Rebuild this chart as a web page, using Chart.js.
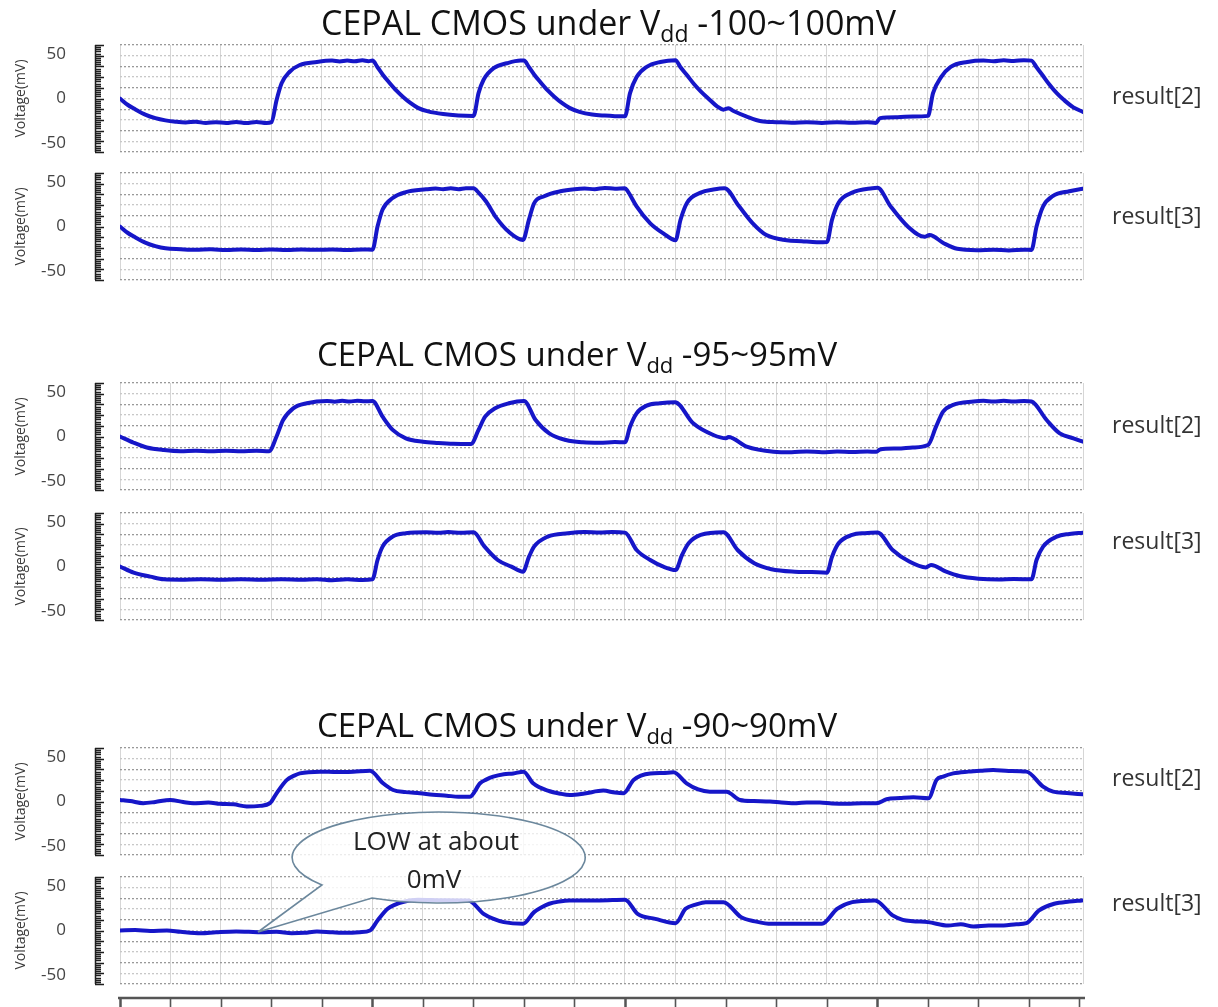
<!DOCTYPE html>
<html>
<head>
<meta charset="utf-8">
<script src="https://cdn.jsdelivr.net/npm/chart.js@4.4.0/dist/chart.umd.min.js"></script>
<style>
  body { margin: 0; background: #fff; width: 1218px; height: 1007px; position: relative; overflow: hidden; }
  canvas { position: absolute; left: 0; }
  #overlay { position: absolute; left: 0; top: 0; pointer-events: none; }
  #overlay text { font-family: "Open Sans", sans-serif; }
</style>
</head>
<body>

<canvas id="c1" width="1218" height="117" style="top:40px"></canvas>
<canvas id="c2" width="1218" height="117" style="top:168px"></canvas>
<canvas id="c3" width="1218" height="117" style="top:378px"></canvas>
<canvas id="c4" width="1218" height="117" style="top:508px"></canvas>
<canvas id="c5" width="1218" height="117" style="top:743px"></canvas>
<canvas id="c6" width="1218" height="135" style="top:872px"></canvas>

<svg id="overlay" width="1218" height="1007">
  <text x="321" y="35" font-size="34" fill="#111">CEPAL CMOS under V<tspan font-size="23" dy="7">dd</tspan><tspan dy="-7"> -100~100mV</tspan></text>
  <text x="317" y="366" font-size="33" fill="#111">CEPAL CMOS under V<tspan font-size="22" dy="7">dd</tspan><tspan dy="-7"> -95~95mV</tspan></text>
  <text x="317" y="737" font-size="33" fill="#111">CEPAL CMOS under V<tspan font-size="22" dy="7">dd</tspan><tspan dy="-7"> -90~90mV</tspan></text>

  <text x="1112" y="104" font-size="23" fill="#333">result[2]</text>
  <text x="1112" y="224" font-size="23" fill="#333">result[3]</text>
  <text x="1112" y="433" font-size="23" fill="#333">result[2]</text>
  <text x="1112" y="549" font-size="23" fill="#333">result[3]</text>
  <text x="1112" y="786" font-size="23" fill="#333">result[2]</text>
  <text x="1112" y="911" font-size="23" fill="#333">result[3]</text>

  <path d="M 372 898 A 146.5 45.5 0 1 0 322 885 L 258 932 Z" fill="rgba(255,255,255,0.8)" stroke="#6b879c" stroke-width="1.6"/>
  <text x="436" y="850" font-size="26" fill="#222" text-anchor="middle">LOW at about</text>
  <text x="434" y="888" font-size="26" fill="#222" text-anchor="middle">0mV</text>
</svg>

<script>
// time axis (one grid division per unit) and voltage readings in mV
const xMax = 19.07;
const yTickVals = [-50, 0, 50];

// Vdd -100~100mV
const r2_100 = [[0,0],[0.15,-7],[0.3,-12],[0.5,-18],[0.7,-22],[0.9,-24.5],[1.1,-26],[1.3,-26.8],[1.5,-26],[1.7,-27.5],[1.9,-26.5],[2.1,-27.5],[2.3,-26.3],[2.5,-27.6],[2.7,-26.4],[2.9,-27.5],[3.0,-26.5],[3.1,-2],[3.2,17],[3.36,30],[3.56,37.6],[3.9,41],[4.2,42.5],[4.35,41.6],[4.5,42.6],[4.65,41.7],[4.8,42.8],[4.92,41.9],[5.0,42.5],[5.1,35],[5.2,27],[5.33,18],[5.47,9],[5.6,2],[5.75,-5],[5.9,-10.5],[6.1,-14.5],[6.4,-17.5],[6.7,-19],[7.0,-19.5],[7.1,6],[7.2,21],[7.4,34],[7.66,39.5],[7.93,42.5],[8.0,42.5],[8.1,35],[8.2,27],[8.33,18],[8.47,9],[8.6,2],[8.75,-5],[8.9,-10.5],[9.1,-15],[9.35,-18],[9.6,-19.2],[9.8,-19.8],[10.0,-20],[10.1,6],[10.23,24],[10.43,35.5],[10.7,41],[11.0,43],[11.1,35],[11.23,26],[11.37,16],[11.5,8],[11.65,0],[11.83,-9],[11.95,-12.5],[12.05,-11],[12.15,-14],[12.4,-20],[12.7,-25.5],[13.0,-26.5],[13.3,-27.2],[13.6,-26.5],[13.9,-27.4],[14.2,-26.6],[14.5,-27.3],[14.8,-26.6],[14.97,-27.4],[15.05,-22],[15.4,-21],[15.7,-20.2],[16.0,-19.5],[16.1,6],[16.26,24],[16.45,35.5],[16.78,41],[17.1,42.6],[17.3,41.8],[17.5,42.9],[17.7,42],[17.9,43],[18.05,42.5],[18.15,35],[18.27,26],[18.4,16],[18.55,6],[18.7,-2],[18.88,-10],[19.07,-15]];
const r3_100 = [[0,0],[0.15,-7],[0.3,-12],[0.5,-18],[0.7,-22],[0.9,-24.5],[1.2,-25.5],[1.5,-26.2],[1.8,-25.6],[2.1,-26.3],[2.4,-25.7],[2.7,-26.3],[3.0,-25.8],[3.3,-26.3],[3.6,-25.7],[3.9,-26.2],[4.2,-25.8],[4.5,-26.3],[4.8,-25.8],[5.0,-26],[5.1,0],[5.2,19],[5.4,32],[5.66,38.5],[6.06,41.7],[6.25,42.6],[6.4,41.8],[6.55,42.8],[6.7,41.8],[6.85,42.9],[7.0,42.8],[7.1,38],[7.25,28],[7.45,10],[7.7,-6],[7.98,-15],[8.1,8],[8.2,26],[8.4,34],[8.72,39.5],[9.0,41.8],[9.2,42.5],[9.4,41.9],[9.6,43.3],[9.8,42.3],[10.0,43],[10.05,40],[10.23,22.6],[10.5,3.6],[10.76,-7.7],[11.0,-15.4],[11.1,7.6],[11.23,26.7],[11.5,38],[11.75,41.5],[11.97,43],[12.26,22.6],[12.53,3.6],[12.8,-9.6],[13.2,-15.4],[13.5,-16.5],[13.8,-17.6],[14.0,-17.3],[14.1,7.6],[14.23,26.7],[14.5,38],[14.9,43],[15.0,43.5],[15.26,22.6],[15.6,0],[15.93,-11.6],[16.03,-9.6],[16.32,-19],[16.58,-25],[16.97,-26.5],[17.3,-26],[17.6,-26.8],[17.9,-26],[18.05,-26.3],[18.15,0],[18.28,22.6],[18.47,34],[18.8,39.6],[19.07,42.5]];

// Vdd -95~95mV
const r2_95 = [[0,0],[0.27,-7],[0.53,-12.3],[0.87,-15.2],[1.2,-16.5],[1.5,-15.9],[1.8,-16.6],[2.1,-16],[2.4,-16.6],[2.7,-16],[2.95,-16.5],[3.1,0],[3.23,18.5],[3.43,31.6],[3.7,37.3],[4.1,39.9],[4.25,39.1],[4.4,40],[4.55,39.2],[4.7,40.2],[4.85,39.4],[5.0,39.9],[5.2,22.2],[5.4,7.4],[5.66,-2],[6.0,-5.8],[6.3,-7.2],[6.6,-8.2],[6.95,-8.5],[7.1,7.4],[7.23,22.2],[7.43,31.6],[7.7,37.3],[8.0,39.9],[8.23,18.5],[8.5,3.5],[8.83,-3.9],[9.17,-6.5],[9.5,-7],[9.8,-6.3],[10.0,-6.5],[10.1,11],[10.23,26],[10.43,34.6],[10.69,37.3],[10.99,38.5],[11.35,14.8],[11.75,1.7],[12.0,-2],[12.05,-0.5],[12.41,-11.4],[12.94,-17],[13.3,-17.6],[13.6,-16.8],[13.9,-17.6],[14.2,-16.9],[14.5,-17.5],[14.8,-16.9],[14.98,-17.2],[15.05,-14.5],[15.4,-13.5],[15.7,-12.3],[16.0,-9.6],[16.16,11],[16.3,27.9],[16.5,35.4],[16.9,39.2],[17.1,40],[17.3,39.2],[17.5,40],[17.7,39.2],[17.9,39.9],[18.05,39.2],[18.35,18.5],[18.61,3.5],[18.88,-2],[19.07,-5.8]];
const r3_95 = [[0,0],[0.27,-6.9],[0.6,-11.4],[0.87,-14.4],[1.2,-14.8],[1.6,-14.2],[2.0,-14.8],[2.4,-14.3],[2.8,-14.8],[3.2,-14.3],[3.6,-14.9],[3.9,-14.2],[4.2,-15.3],[4.5,-14.4],[4.8,-15.1],[5.0,-14.4],[5.1,7.3],[5.2,22.3],[5.4,33.5],[5.66,37.3],[6.06,38.4],[6.3,37.8],[6.5,38.6],[6.75,37.9],[7.0,38.4],[7.22,22.3],[7.48,7.3],[7.75,-0.2],[7.98,-5.8],[8.1,11],[8.2,22.3],[8.47,33.5],[8.87,37.3],[9.2,38.6],[9.5,38],[9.75,38.7],[10.0,38],[10.23,18.5],[10.5,7.3],[10.76,-0.2],[11.0,-3.9],[11.13,12.9],[11.26,26],[11.5,35.4],[11.95,38.4],[12.23,18.5],[12.56,3.6],[12.9,-3.1],[13.36,-5.8],[13.7,-6.2],[14.0,-6.9],[14.1,11],[14.23,26],[14.5,35.4],[14.75,37.4],[15.0,38],[15.3,18.5],[15.63,5.5],[15.96,-1],[16.06,1.7],[16.36,-5.8],[16.62,-10.7],[17.0,-13.7],[17.4,-14.6],[17.7,-14],[18.05,-14.4],[18.15,7.3],[18.28,22.3],[18.55,33.5],[18.8,36.5],[19.07,38]];

// Vdd -90~90mV
const r2_90 = [[0,1.7],[0.2,0.5],[0.46,-1.9],[0.7,-0.5],[0.99,1.7],[1.25,-0.5],[1.45,-1.9],[1.75,-1.2],[1.98,-2.6],[2.25,-3.2],[2.51,-5.6],[2.77,-4.9],[2.97,-1.9],[3.1,9.2],[3.3,24],[3.45,29],[3.56,31.5],[3.96,33.5],[4.3,33],[4.62,33.5],[4.95,34.6],[5.21,20.4],[5.41,12.9],[5.65,10.5],[5.94,9.2],[6.2,7.5],[6.47,6.5],[6.7,5.4],[6.93,5.4],[7.13,20.4],[7.25,24.5],[7.39,27.8],[7.6,30.5],[7.79,31.5],[7.99,33.5],[8.18,20.4],[8.51,11.5],[8.7,9],[8.91,7.3],[9.2,9],[9.57,12.2],[9.8,10],[9.97,9.2],[10.17,24.2],[10.5,31.5],[10.75,32],[10.96,32.7],[11.22,20.4],[11.45,13.5],[11.68,11],[12.01,11],[12.28,1.7],[12.55,0.5],[12.87,0],[13.1,-1],[13.4,-1.9],[13.6,-1],[13.86,-1.1],[14.1,-2.2],[14.39,-2.6],[14.7,-1.9],[14.98,-1.9],[15.18,2.5],[15.45,3.8],[15.71,4.7],[16.01,3.6],[16.17,24.2],[16.3,28],[16.5,31.5],[16.8,33.5],[17.05,34.6],[17.29,35.4],[17.6,34.3],[17.95,33.5],[18.28,16.7],[18.48,11],[18.75,9.5],[19.07,8]];
const r3_90 = [[0,0],[0.3,0.5],[0.6,-0.5],[0.93,0],[1.2,-1.5],[1.6,-3],[1.9,-2],[2.3,-1.1],[2.55,-1.5],[2.8,-1.9],[3.1,-1.5],[3.4,-3],[3.65,-2.6],[3.9,-1.1],[4.2,-2],[4.5,-2.6],[4.75,-1.9],[4.95,0],[5.1,11.2],[5.3,24.3],[5.45,29],[5.6,32],[5.9,34.5],[6.4,34],[6.9,33.7],[7.2,18.7],[7.4,13],[7.6,9.4],[7.98,7.5],[8.2,20.6],[8.35,26],[8.5,30],[8.7,32.5],[8.9,33.7],[9.5,33.7],[10.0,34.5],[10.25,18.7],[10.6,13.1],[11.0,8.2],[11.2,24.3],[11.4,29],[11.6,31.8],[11.95,31.8],[12.3,15],[12.6,10],[12.9,7.5],[13.4,7.5],[13.9,7.5],[14.2,24.3],[14.5,31.8],[14.95,33.7],[15.3,16.9],[15.5,12],[15.7,10.5],[16.0,9.4],[16.4,5.6],[16.65,7],[16.9,4.5],[17.2,5.6],[17.5,5.6],[17.75,7],[17.95,8.2],[18.2,22.5],[18.5,30],[18.8,32.5],[19.05,33.7]];

// left ruler of the y axis and, for the last panel, the bottom time axis
const rulerPlugin = {
  id: 'ruler',
  afterDraw(chart, args, opts) {
    const ctx = chart.ctx;
    const x = chart.scales.x, y = chart.scales.y;
    ctx.save();
    ctx.strokeStyle = '#1e1e1e';
    ctx.lineWidth = 1.5;
    ctx.beginPath();
    ctx.moveTo(95.5, y.getPixelForValue(60));
    ctx.lineTo(95.5, y.getPixelForValue(-60));
    for (let i = 0; i <= 50; i++) {
      const py = Math.round(y.getPixelForValue(-60 + i * 2.4)) + 0.5;
      ctx.moveTo(95, py);
      ctx.lineTo(i % 5 === 0 ? 104 : 101, py);
    }
    ctx.stroke();
    if (opts.bottomAxis) {
      const by = chart.chartArea.bottom + 14;
      ctx.strokeStyle = '#555';
      ctx.lineWidth = 2.5;
      ctx.beginPath();
      ctx.moveTo(x.getPixelForValue(0) - 2, by);
      ctx.lineTo(x.getPixelForValue(xMax) + 2, by);
      ctx.stroke();
      for (let i = 0; i <= 19; i++) {
        const px = Math.round(x.getPixelForValue(i)) + 0.5;
        ctx.lineWidth = i % 5 === 0 ? 2.5 : 1.6;
        ctx.beginPath();
        ctx.moveTo(px, by);
        ctx.lineTo(px, by + 12);
        ctx.stroke();
      }
    }
    ctx.restore();
  }
};

function makeChart(id, pts, last) {
  new Chart(document.getElementById(id), {
    type: 'line',
    data: {
      datasets: [{
        data: pts.map(p => ({ x: p[0], y: p[1] })),
        borderColor: '#1616c8',
        borderWidth: 4,
        borderJoinStyle: 'round',
        borderCapStyle: 'round',
        pointRadius: 0,
        cubicInterpolationMode: 'monotone',
        fill: false
      }]
    },
    options: {
      animation: false,
      responsive: false,
      layout: { padding: { left: 0, right: 135, top: 5, bottom: last ? 23 : 5 } },
      plugins: {
        legend: { display: false },
        tooltip: { enabled: false },
        ruler: { bottomAxis: last }
      },
      scales: {
        x: {
          type: 'linear',
          min: 0,
          max: xMax,
          ticks: { display: false, stepSize: 1 },
          grid: { color: '#d6d6d6', lineWidth: 1, drawTicks: false },
          border: { display: false }
        },
        y: {
          type: 'linear',
          min: -60,
          max: 60,
          ticks: { display: false, stepSize: 12 },
          grid: {
            color: c => (c.index % 2 ? '#c8c8c8' : '#999999'),
            lineWidth: 1.3,
            drawTicks: false
          },
          border: { display: false, dash: [2, 2] }
        },
        yl: {
          type: 'linear',
          axis: 'y',
          position: 'left',
          min: -60,
          max: 60,
          afterBuildTicks: s => { s.ticks = yTickVals.map(v => ({ value: v })); },
          ticks: { font: { family: 'Open Sans', size: 17 }, color: '#444', padding: 54, autoSkip: false },
          grid: { display: false, drawTicks: false },
          border: { display: false },
          title: {
            display: true,
            text: 'Voltage(mV)',
            font: { family: 'Open Sans', size: 14 },
            color: '#3a3a3a',
            padding: { top: 13, bottom: 0 }
          },
          afterFit: s => {
            s.width = 120;
            s.paddingTop = 0;
            s.paddingBottom = 0;
          }
        }
      }
    },
    plugins: [rulerPlugin]
  });
}

makeChart('c1', r2_100, false);
makeChart('c2', r3_100, false);
makeChart('c3', r2_95, false);
makeChart('c4', r3_95, false);
makeChart('c5', r2_90, false);
makeChart('c6', r3_90, true);
</script>
</body>
</html>
